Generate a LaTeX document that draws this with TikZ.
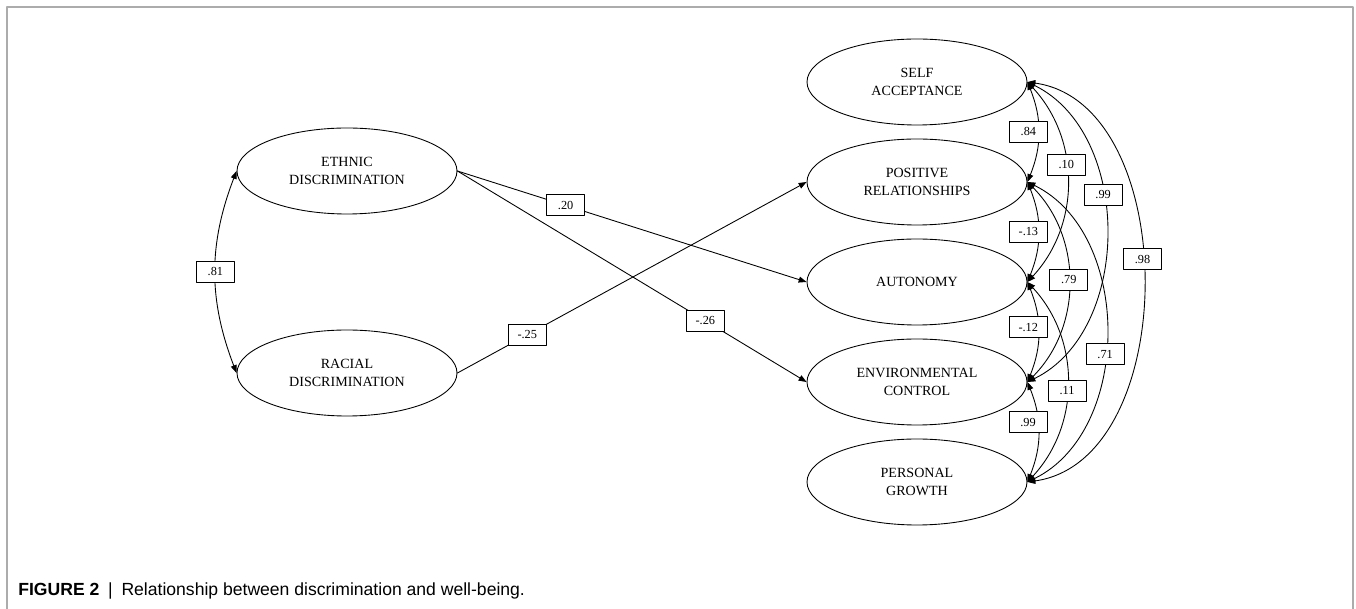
\documentclass[tikz,border=0pt]{standalone}
\usepackage{fontspec}
\setmainfont{Liberation Serif}
\setsansfont{Liberation Sans}
\usetikzlibrary{shapes.geometric,arrows.meta}
\begin{document}
\begin{tikzpicture}[scale=1, line join=round, line cap=round, >={Triangle[length=4.5pt,width=3.4pt]},
  latent/.style={ellipse, draw, line width=0.5pt, minimum width=4.4cm, minimum height=1.72cm, inner sep=0pt, align=center, font=\fontsize{8}{10.2}\selectfont},
  coef/.style={rectangle, draw, line width=0.5pt, fill=white, minimum width=0.76cm, minimum height=0.42cm, inner sep=0pt, font=\fontsize{7}{8}\selectfont},
  path/.style={->, line width=0.5pt}]
% Frame and size
\def\W{27.12}
\def\H{12.18}
\useasboundingbox (0,0) rectangle (\W,\H);
\draw[gray!65, line width=0.8pt, line cap=butt] (0.14,0) -- (0.14,12.04) -- (27.06,12.04) -- (27.06,0);
% Column positions
\def\xleft{6.94}
\def\xright{18.34}
% Discrimination (left)
\node[latent] (ethnic) at (\xleft,8.76) {ETHNIC\\DISCRIMINATION};
\node[latent] (racial) at (\xleft,4.72) {RACIAL\\DISCRIMINATION};
% Well-being (right)
\node[latent] (self) at (\xright,10.54) {SELF\\ACCEPTANCE};
\node[latent] (posrel) at (\xright,8.54) {POSITIVE\\RELATIONSHIPS};
\node[latent] (auton) at (\xright,6.54) {AUTONOMY};
\node[latent] (envctrl) at (\xright,4.54) {ENVIRONMENTAL\\CONTROL};
\node[latent] (growth) at (\xright,2.54) {PERSONAL\\GROWTH};
% Covariance of the predictors
\draw[<->, line width=0.5pt] (ethnic.west) to[bend right=21] node[coef] {.81} (racial.west);
% Regression paths
\draw[path] (ethnic.east) -- node[coef, pos=0.31] {.20} (auton.west);
\draw[path] (ethnic.east) -- node[coef, pos=0.71] {-.26} (envctrl.west);
\draw[path] (racial.east) -- node[coef, pos=0.2] {-.25} (posrel.west);
% Covariances of the outcomes
\draw[<->, line width=0.5pt] (self.east) to[bend left=82] node[coef, pos=0.46] {.98} (growth.east);
\draw[<->, line width=0.5pt] (self.east) to[bend left=64] node[coef, pos=0.4] {.99} (envctrl.east);
\draw[<->, line width=0.5pt] (posrel.east) to[bend left=64] node[coef, pos=0.56] {.71} (growth.east);
\draw[<->, line width=0.5pt] (self.east) to[bend left=43] node[coef, pos=0.42] {.10} (auton.east);
\draw[<->, line width=0.5pt] (posrel.east) to[bend left=45] node[coef, pos=0.49] {.79} (envctrl.east);
\draw[<->, line width=0.5pt] (auton.east) to[bend left=43] node[coef, pos=0.54] {.11} (growth.east);
\draw[<->, line width=0.5pt] (self.east) to[bend left=22] node[coef, xshift=-0.2cm] {.84} (posrel.east);
\draw[<->, line width=0.5pt] (posrel.east) to[bend left=22] node[coef, xshift=-0.2cm] {-.13} (auton.east);
\draw[<->, line width=0.5pt] (auton.east) to[bend left=22] node[coef, pos=0.45, xshift=-0.2cm] {-.12} (envctrl.east);
\draw[<->, line width=0.5pt] (envctrl.east) to[bend left=22] node[coef, pos=0.4, xshift=-0.2cm] {.99} (growth.east);
% Caption
\node[anchor=base west, inner sep=0pt, font=\sffamily\fontsize{10}{12}\selectfont] (caption) at (0.36,0.26) {\textbf{FIGURE 2}\enspace|\enspace Relationship between discrimination and well-being.};
\end{tikzpicture}
\end{document}
